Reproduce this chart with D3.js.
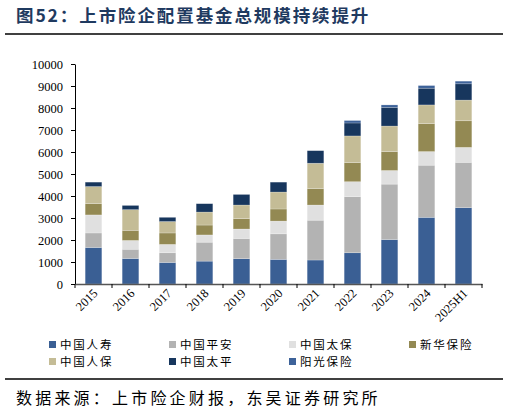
<!DOCTYPE html>
<html><head><meta charset="utf-8">
<script src="https://cdn.jsdelivr.net/npm/d3@7/dist/d3.min.js"></script>
<style>
body{margin:0;background:#fff;}
svg{display:block;}
</style></head>
<body>
<svg id="c" width="509" height="413"></svg>
<script>
const categories = ["2015","2016","2017","2018","2019","2020","2021","2022","2023","2024","2025H1"];
const seriesNames = ["中国人寿","中国平安","中国太保","新华保险","中国人保","中国太平","阳光保险"];
const chinaLife   = [1660,1160, 980,1040,1150,1120,1090,1420,2020,3030,3470];
const pingAn      = [ 660, 420, 440, 860, 920,1160,1810,2550,2520,2370,2060];
const cpic        = [ 820, 400, 380, 330, 430, 580, 690, 680, 620, 620, 680];
const newChina    = [ 510, 460, 520, 450, 470, 550, 750, 870, 860,1270,1210];
const picc        = [ 780, 940, 520, 590, 620, 770,1150,1210,1160, 850, 940];
const taiping     = [ 200, 190, 190, 380, 480, 450, 570, 590, 850, 760, 740];
const sunshine    = [   0,   0,   0,   0,   0,   0,   0, 110, 110, 120, 120];
const yTicks = [0,1000,2000,3000,4000,5000,6000,7000,8000,9000,10000];
const colors = ["#3a5f94","#b3b3b3","#e0e0e0","#938953","#c4bc96","#17365d","#3d6299"];

const seriesVals = [chinaLife,pingAn,cpic,newChina,picc,taiping,sunshine];
const rows = categories.map((c,i)=>{const o={cat:c}; seriesNames.forEach((s,j)=>o[s]=seriesVals[j][i]); return o;});
const stacked = d3.stack().keys(seriesNames)(rows);

const svg = d3.select("#c");
const x0 = 75, x1 = 482, yTop = 64, yBot = 284;
const x = d3.scaleBand().domain(categories).range([x0,x1]).paddingInner(0.55).paddingOuter(0.275);
const y = d3.scaleLinear().domain([0,10000]).range([yBot,yTop]);

// title
svg.append("text").attr("x",16).attr("y",22)
  .attr("font-family","'Noto Sans CJK SC'").attr("font-weight","bold")
  .attr("font-size",17.5).attr("letter-spacing",1.9).attr("fill","#1f3a60")
  .text("图52：上市险企配置基金总规模持续提升");
svg.append("line").attr("x1",5).attr("x2",503).attr("y1",34).attr("y2",34)
  .attr("stroke","#000").attr("stroke-width",1.6);

// bars
svg.append("g").selectAll("g").data(stacked).join("g")
  .attr("fill",(d,i)=>colors[i])
  .selectAll("rect").data(d=>d).join("rect")
  .attr("x",d=>x(d.data.cat)).attr("width",x.bandwidth())
  .attr("y",d=>y(d[1])).attr("height",d=>Math.max(0,y(d[0])-y(d[1])))
  .attr("stroke","rgba(255,255,255,0.35)").attr("stroke-width",0.6);

// y axis
const yAxis = d3.axisLeft(y).tickValues(yTicks).tickSize(4).tickSizeOuter(0).tickPadding(8).tickFormat(d3.format("d"));
const gy = svg.append("g").attr("transform",`translate(${x0},0)`).call(yAxis);
gy.selectAll("text").attr("font-family","'Liberation Serif'").attr("font-size",12.5).attr("fill","#000");
gy.select(".domain").attr("stroke","#000");
gy.selectAll(".tick line").attr("stroke","#000");

// x axis
const xAxis = d3.axisBottom(x).tickSize(0).tickSizeOuter(0);
const gx = svg.append("g").attr("transform",`translate(0,${yBot})`).call(xAxis);
gx.select(".domain").attr("stroke","#555").attr("stroke-width",1.3);
gx.selectAll(".tick text").attr("font-family","'Liberation Serif'").attr("font-size",12.5).attr("fill","#000")
  .attr("text-anchor","end").attr("dy",0).attr("y",0)
  .attr("transform","translate(5,10) rotate(-45)");
// boundary ticks
svg.append("g").selectAll("line").data(d3.range(categories.length+1)).join("line")
  .attr("x1",i=>x0+i*x.step()).attr("x2",i=>x0+i*x.step())
  .attr("y1",yBot).attr("y2",yBot+4).attr("stroke","#000");

// legend
const legCols = [49,169,289,409];
const leg = svg.append("g");
seriesNames.forEach((s,i)=>{
  const cx = legCols[i%4], cy = i<4 ? 345 : 362;
  leg.append("rect").attr("x",cx).attr("y",cy-4).attr("width",7).attr("height",7).attr("fill",colors[i]);
  leg.append("text").attr("x",cx+11).attr("y",cy+4)
    .attr("font-family","'Noto Sans CJK SC'").attr("font-size",11.5).attr("letter-spacing",1.8).attr("fill","#000").text(s);
});

// footer
svg.append("line").attr("x1",5).attr("x2",503).attr("y1",379).attr("y2",379)
  .attr("stroke","#000").attr("stroke-width",1.6);
svg.append("text").attr("x",16).attr("y",404)
  .attr("font-family","'Noto Sans CJK SC'").attr("font-size",16).attr("letter-spacing",3.2).attr("fill","#000")
  .text("数据来源：上市险企财报，东吴证券研究所");
</script>
</body></html>
